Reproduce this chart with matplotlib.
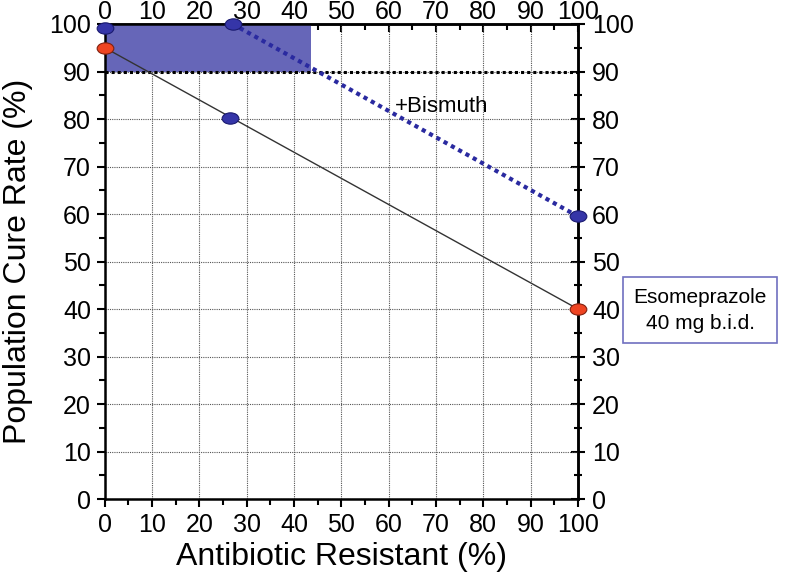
import matplotlib.pyplot as plt
import numpy as np
from matplotlib.path import Path
from matplotlib.patches import Rectangle

plt.rcParams['font.family'] = ['Liberation Sans', 'DejaVu Sans']

# data
esome_x = [0, 100]
esome_y = [95, 40]
esome_mid_x = [26.5]
esome_mid_y = [80.2]
bism_x = [27, 100]
bism_y = [100, 59.5]
start_x = [0]
start_y = [99.2]
target_cure = 90
shade_x_max = 43.5
ticks = list(range(0, 101, 10))
minor_ticks = list(range(5, 100, 10))

# ellipse marker (wider than tall)
circ = Path.unit_circle()
ellipse = Path(circ.vertices * np.array([1.0, 0.68]), circ.codes)

fig = plt.figure(figsize=(8, 5.81), dpi=100)
ax = fig.add_axes([0.131, 0.141, 0.5915, 0.8177])

ax.set_xlim(0, 100)
ax.set_ylim(0, 100)

ax.add_patch(Rectangle((0, target_cure), shade_x_max, 100 - target_cure,
                       facecolor='#6666b8', edgecolor='none', zorder=1))
ax.axhline(target_cure, color='black', linestyle=(0, (1, 1)), linewidth=2.2, zorder=2)

ax.plot(esome_x, esome_y, color='#333333', linewidth=1, zorder=3)
ax.plot(bism_x, bism_y, color='#2a2aa0', linewidth=3, linestyle=(0, (1, 1)), zorder=3)

blue_kw = dict(marker=ellipse, markersize=12, markerfacecolor='#3535a8',
               markeredgecolor='#1a1a70', markeredgewidth=0.8, linestyle='none',
               zorder=5, clip_on=False)
red_kw = dict(marker=ellipse, markersize=12, markerfacecolor='#ee4422',
              markeredgecolor='#802010', markeredgewidth=0.8, linestyle='none',
              zorder=5, clip_on=False)
ax.plot(start_x, start_y, **blue_kw)
ax.plot(bism_x, bism_y, **blue_kw)
ax.plot(esome_mid_x, esome_mid_y, **blue_kw)
ax.plot(esome_x, esome_y, **red_kw)

ax.grid(True, color='#555555', linestyle=(0, (1, 1)), linewidth=0.8)
ax.set_axisbelow(True)

ax.set_xticks(ticks)
ax.set_yticks(ticks)
ax.set_xticks(minor_ticks, minor=True)
ax.set_yticks(minor_ticks, minor=True)
ax.tick_params(which='both', direction='out', width=1.5, labelsize=18)
ax.tick_params(which='major', length=6, pad=4)
ax.tick_params(which='minor', length=4)

# top and right axes
top = ax.secondary_xaxis('top')
top.set_xticks(ticks)
top.set_xticks(minor_ticks, minor=True)
top.tick_params(which='both', direction='in', width=1.5, labelsize=18)
top.tick_params(which='major', length=6, pad=0)
top.tick_params(which='minor', length=4)

right = ax.secondary_yaxis('right')
right.set_yticks(ticks)
right.set_yticks(minor_ticks, minor=True)
right.tick_params(which='both', direction='inout', width=1.5, labelsize=18)
right.tick_params(which='major', length=10, pad=5)
right.tick_params(which='minor', length=6)

for s in list(ax.spines.values()) + [top.spines['top'], right.spines['right']]:
    s.set_linewidth(1.8)

ax.set_xlabel('Antibiotic Resistant (%)', fontsize=23)
ax.set_ylabel('Population Cure Rate (%)', fontsize=23)
ax.xaxis.set_label_coords(0.5, -0.09)
ax.yaxis.set_label_coords(-0.152, 0.5)

ax.text(61.3, 82.7, '+Bismuth', fontsize=16, ha='left', va='center')

fig.text(0.875, 0.466, 'Esomeprazole\n40 mg b.i.d.', fontsize=15, ha='center',
         va='center', linespacing=1.5,
         bbox=dict(boxstyle='square,pad=0.5', facecolor='white',
                   edgecolor='#7070c0', linewidth=1.2))

fig.savefig('out.png', dpi=100)
